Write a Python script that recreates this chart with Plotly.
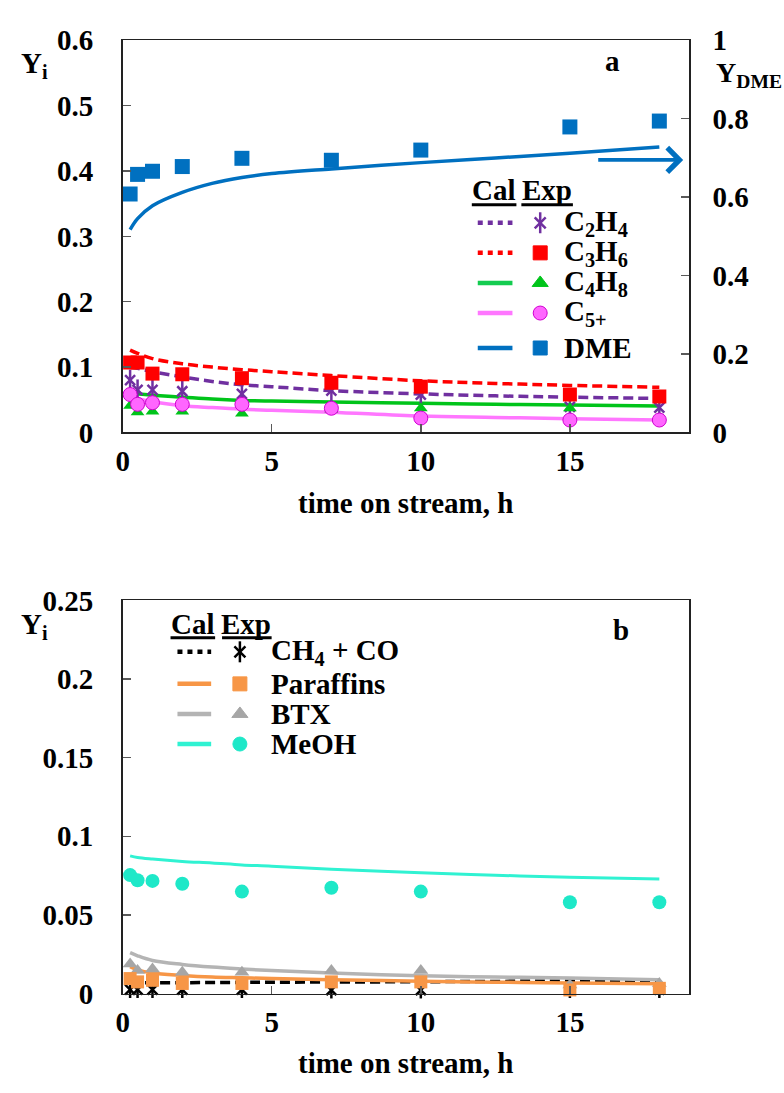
import plotly.graph_objects as go

W, H = 784, 1093
FONT = 'Liberation Serif'
FS = 29

# ---------------- data ----------------
t_exp = [0.25, 0.5, 1, 2, 4, 7, 10, 15, 18]
t_cal = [0.25, 0.5, 1, 2, 3, 4, 5, 7, 10, 12.5, 15, 18]

# panel a (left axis Y_i, right axis Y_DME)
c2h4_exp = [0.080, 0.065, 0.065, 0.063, 0.059, 0.064, 0.058, 0.039, 0.038]
c3h6_exp = [0.107, 0.107, 0.090, 0.089, 0.083, 0.076, 0.070, 0.058, 0.055]
c4h8_exp = [0.041, 0.031, 0.032, 0.032, 0.029, 0.035, 0.037, 0.037, 0.020]
c5_exp = [0.058, 0.043, 0.0455, 0.043, 0.043, 0.037, 0.022, 0.019, 0.019]
dme_exp = [0.608, 0.658, 0.666, 0.678, 0.699, 0.694, 0.720, 0.779, 0.794]

c2h4_cal = [0.100, 0.098, 0.093, 0.085, 0.078, 0.073, 0.070, 0.064, 0.059, 0.056, 0.054, 0.052]
c3h6_cal = [0.126, 0.121, 0.113, 0.105, 0.100, 0.096, 0.093, 0.087, 0.079, 0.075, 0.072, 0.069]
c4h8_cal = [0.060, 0.059, 0.057, 0.054, 0.051, 0.049, 0.048, 0.0465, 0.0445, 0.043, 0.042, 0.0405]
c5_cal = [0.055, 0.052, 0.047, 0.041, 0.038, 0.0355, 0.034, 0.031, 0.025, 0.023, 0.021, 0.019]
dme_cal = [0.517, 0.545, 0.578, 0.612, 0.635, 0.650, 0.660, 0.672, 0.688, 0.700, 0.712, 0.728]

# panel b
ch4_exp = [0.0025, 0.0025, 0.0025, 0.0025, 0.0025, 0.0022, 0.0022, 0.0025, 0.0025]
paraffin_exp = [0.0095, 0.0074, 0.0084, 0.0064, 0.0064, 0.0074, 0.0074, 0.0023, 0.0033]
btx_exp = [0.0187, 0.0146, 0.0156, 0.0136, 0.0136, 0.0146, 0.0146, 0.0054, 0.0064]
meoh_exp = [0.0753, 0.0720, 0.0716, 0.0698, 0.0648, 0.0673, 0.0648, 0.0580, 0.0580]

ch4_cal = [0.0068, 0.0068, 0.0069, 0.0069, 0.0070, 0.0071, 0.0072, 0.0073, 0.0075, 0.0077, 0.0078, 0.0080]
paraffin_cal = [0.017, 0.015, 0.013, 0.0115, 0.0105, 0.0100, 0.0095, 0.0088, 0.0078, 0.0072, 0.0067, 0.0062]
btx_cal = [0.026, 0.024, 0.021, 0.0185, 0.0168, 0.0156, 0.0146, 0.0130, 0.0113, 0.0105, 0.0099, 0.0088]
meoh_cal = [0.0875, 0.0865, 0.0855, 0.0840, 0.0830, 0.0818, 0.0810, 0.0790, 0.0768, 0.0752, 0.0740, 0.0728]

a_names = ['C<sub>2</sub>H<sub>4</sub>', 'C<sub>3</sub>H<sub>6</sub>', 'C<sub>4</sub>H<sub>8</sub>',
           'C<sub>5+</sub>', 'DME']
b_names = ['CH<sub>4</sub> + CO', 'Paraffins', 'BTX', 'MeOH']

x_ticks = [0, 5, 10, 15]
ya_ticks = [0, 0.1, 0.2, 0.3, 0.4, 0.5, 0.6]
ya2_ticks = [0, 0.2, 0.4, 0.6, 0.8, 1]
yb_ticks = [0, 0.05, 0.1, 0.15, 0.2, 0.25]

# ---------------- styles ----------------
PURPLE = '#7030A0'
RED = '#FF0000'
GREEN = '#00C41A'
GREEN_L = '#14CC50'
MAG = '#FF77FF'
MAG_M = '#FF66FF'
BLUE = '#0070C0'
ORANGE = '#F79646'
GRAY = '#A6A6A6'
GRAY_L = '#B4B4B4'
CYAN = '#1EE8C8'
CYAN_L = '#30F2D2'
DASH = '10px,5px'


def fx(p):
    return p / W


def fy(p):
    return 1 - p / H


fig = go.Figure()

# ---------- panel a lines ----------
for ys, col, dash, wd, yax in [
    (c3h6_cal, RED, DASH, 3.5, 'y'),
    (c2h4_cal, PURPLE, DASH, 3.5, 'y'),
    (c4h8_cal, GREEN, None, 3.5, 'y'),
    (c5_cal, MAG, None, 3.5, 'y'),
    (dme_cal, BLUE, None, 3.5, 'y2'),
]:
    fig.add_trace(go.Scatter(x=t_cal, y=ys, mode='lines', xaxis='x', yaxis=yax,
                             line=dict(color=col, width=wd, dash=dash, shape='spline'),
                             cliponaxis=False))


# ---------- panel a markers ----------
def star(xs, ys, col, xa, ya, sx=10, sv=15, w=2.5):
    fig.add_trace(go.Scatter(x=xs, y=ys, mode='markers', xaxis=xa, yaxis=ya, cliponaxis=False,
                             marker=dict(symbol='x-thin-open', size=sx, color=col,
                                         line=dict(color=col, width=w))))
    fig.add_trace(go.Scatter(x=xs, y=ys, mode='markers', xaxis=xa, yaxis=ya, cliponaxis=False,
                             marker=dict(symbol='line-ns-open', size=sv, color=col,
                                         line=dict(color=col, width=w))))


star(t_exp, c2h4_exp, PURPLE, 'x', 'y')
fig.add_trace(go.Scatter(x=t_exp, y=c3h6_exp, mode='markers', xaxis='x', yaxis='y', cliponaxis=False,
                         marker=dict(symbol='square', size=14, color=RED)))
fig.add_trace(go.Scatter(x=t_exp, y=c4h8_exp, mode='markers', xaxis='x', yaxis='y', cliponaxis=False,
                         marker=dict(symbol='triangle-up', size=12, color=GREEN)))
fig.add_trace(go.Scatter(x=t_exp, y=c5_exp, mode='markers', xaxis='x', yaxis='y', cliponaxis=False,
                         marker=dict(symbol='circle', size=14, color=MAG_M,
                                     line=dict(color='#D000D0', width=1))))
fig.add_trace(go.Scatter(x=t_exp, y=dme_exp, mode='markers', xaxis='x', yaxis='y2', cliponaxis=False,
                         marker=dict(symbol='square', size=15, color=BLUE)))

# ---------- panel b lines ----------
for ys, col, dash, wd in [
    (ch4_cal, 'black', DASH, 3.5),
    (paraffin_cal, ORANGE, None, 3.5),
    (btx_cal, GRAY_L, None, 3.5),
    (meoh_cal, CYAN_L, None, 3),
]:
    fig.add_trace(go.Scatter(x=t_cal, y=ys, mode='lines', xaxis='x2', yaxis='y3',
                             line=dict(color=col, width=wd, dash=dash, shape='spline'),
                             cliponaxis=False))

star(t_exp, ch4_exp, 'black', 'x2', 'y3', sx=10, sv=12)
fig.add_trace(go.Scatter(x=t_exp, y=btx_exp, mode='markers', xaxis='x2', yaxis='y3', cliponaxis=False,
                         marker=dict(symbol='triangle-up', size=13, color=GRAY)))
fig.add_trace(go.Scatter(x=t_exp, y=paraffin_exp, mode='markers', xaxis='x2', yaxis='y3', cliponaxis=False,
                         marker=dict(symbol='square', size=13, color=ORANGE)))
fig.add_trace(go.Scatter(x=t_exp, y=meoh_exp, mode='markers', xaxis='x2', yaxis='y3', cliponaxis=False,
                         marker=dict(symbol='circle', size=14, color=CYAN)))

# ---------- legends (pixel overlay axes x3/y4) ----------
annotations = []
shapes = []


def txt(x, y, s, xanchor='left', size=FS):
    annotations.append(dict(x=x, y=y, xref='x3', yref='y4', text=s, showarrow=False,
                            xanchor=xanchor, yanchor='middle',
                            font=dict(family=FONT, size=size, color='black', weight='bold')))


def legend_block(line_x0, line_x1, mk_x, tx_x, rows_y, head_y, cal_c, exp_c, ul_y, ul_cal, ul_exp,
                 names, styles):
    txt(cal_c, head_y, 'Cal', 'center')
    txt(exp_c, head_y, 'Exp', 'center')
    for (a, b) in (ul_cal, ul_exp):
        shapes.append(dict(type='line', xref='x3', yref='y4', x0=a, x1=b, y0=ul_y, y1=ul_y,
                           line=dict(color='black', width=3)))
    for yy, nm, st in zip(rows_y, names, styles):
        lc, ldash, mk = st
        fig.add_trace(go.Scatter(x=[line_x0, line_x1], y=[yy, yy], mode='lines',
                                 xaxis='x3', yaxis='y4', cliponaxis=False,
                                 line=dict(color=lc, width=4.5, dash=ldash)))
        if mk[0] == 'star':
            star([mk_x], [yy], mk[1], 'x3', 'y4', sx=11, sv=15, w=2.5)
        else:
            fig.add_trace(go.Scatter(x=[mk_x], y=[yy], mode='markers', xaxis='x3', yaxis='y4',
                                     cliponaxis=False,
                                     marker=dict(symbol=mk[0], size=mk[2], color=mk[1],
                                                 line=dict(color=mk[3] if len(mk) > 3 else mk[1],
                                                           width=1))))
        txt(tx_x, yy, nm)


DOT = '5px,5px'
legend_block(475, 510, 538, 560, [213, 244, 275, 306, 342], 179, 491.5, 545, 194.5,
             (469, 514), (519, 571), a_names,
             [(PURPLE, DOT, ('star', PURPLE)),
              (RED, DOT, ('square', RED, 14)),
              (GREEN_L, None, ('triangle-up', GREEN, 14)),
              (MAG, None, ('circle', MAG_M, 14, '#D000D0')),
              (BLUE, None, ('square', BLUE, 14))])

legend_block(172, 206, 235, 264, [655, 688, 719, 750], 626, 187.5, 241.5, 640.5,
             (165, 210), (217, 267), b_names,
             [('black', DOT, ('star', 'black')),
              (ORANGE, None, ('square', ORANGE, 14)),
              (GRAY_L, None, ('triangle-up', GRAY, 14)),
              (CYAN_L, None, ('circle', CYAN, 14))])

# axis titles and labels
txt(402.5, 502, 'time on stream, h', 'center')
txt(402.5, 1079, 'time on stream, h', 'center')
txt(12, 50, 'Y<sub>i</sub>')
txt(12, 628, 'Y<sub>i</sub>')
txt(713, 60, 'Y<sub>DME</sub>', size=28)
txt(611, 46, 'a', 'center')
txt(620, 633, 'b', 'center')

# arrow pointing to right axis
annotations.append(dict(x=18.8, y=0.417, ax=15.9, ay=0.417, xref='x', yref='y', axref='x', ayref='y',
                        showarrow=True, arrowhead=4, arrowsize=1.3, arrowwidth=3.6, arrowcolor=BLUE,
                        text=''))

tickfont = dict(family=FONT, size=FS, color='black', weight='bold')
common = dict(showgrid=False, zeroline=False, showline=True, linecolor='#222222', linewidth=1.5,
              ticks='inside', ticklen=8, tickwidth=1.5, tickcolor='#595959', tickfont=tickfont,
              fixedrange=True)

fig.update_layout(
    width=W, height=H, margin=dict(l=0, r=0, t=0, b=0),
    paper_bgcolor='white', plot_bgcolor='rgba(0,0,0,0)', showlegend=False,
    xaxis=dict(domain=[fx(116.7), fx(688.3)], range=[0, 19], tickvals=x_ticks, anchor='y',
               mirror=True, ticklabelstandoff=2, **common),
    yaxis=dict(domain=[fy(429), fy(25)], range=[0, 0.6], tickvals=ya_ticks, anchor='x',
               mirror=True, ticklabelstandoff=22, **common),
    yaxis2=dict(overlaying='y', side='right', range=[0, 1], tickvals=ya2_ticks, anchor='x',
                ticklabelstandoff=16, **common),
    xaxis2=dict(domain=[fx(116.7), fx(688.3)], range=[0, 19], tickvals=x_ticks, anchor='y3',
                mirror=True, ticklabelstandoff=2, **common),
    yaxis3=dict(domain=[fy(1007), fy(602)], range=[0, 0.25], tickvals=yb_ticks, anchor='x2',
                mirror=True, ticklabelstandoff=22, **common),
    xaxis3=dict(domain=[0, 1], range=[0, W], visible=False, anchor='y4', fixedrange=True),
    yaxis4=dict(domain=[0, 1], range=[H, 0], visible=False, anchor='x3', fixedrange=True),
    annotations=annotations, shapes=shapes,
)

fig.write_html('out.html', config={'displayModeBar': False, 'staticPlot': True},
               post_script="document.body.style.margin='0px';")
